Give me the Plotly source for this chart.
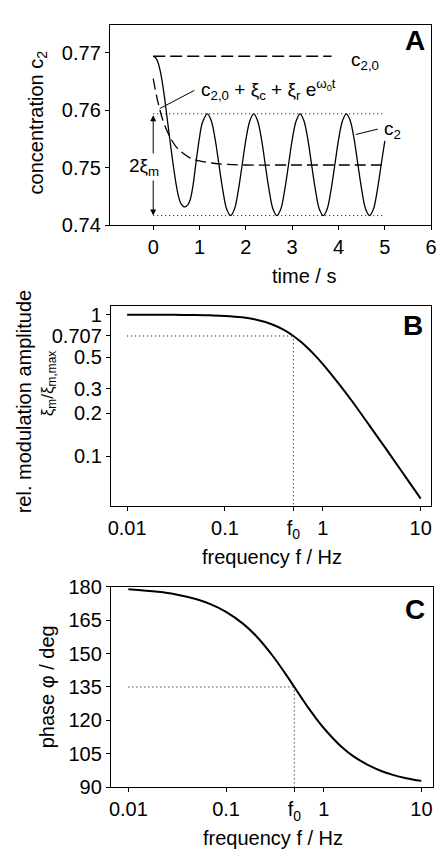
import plotly.graph_objects as go

W, H = 445, 861
FONT = "Liberation Sans, Arial, sans-serif"

# ---------------- Panel A data (time / s, concentration c2) ----------------
t_c2 = [0, 0.05, 0.1, 0.15, 0.2, 0.25, 0.3, 0.35, 0.4, 0.45, 0.5, 0.55, 0.6, 0.68,
        0.75, 0.8, 0.86, 0.93, 1.0, 1.06,
        1.17, 1.253, 1.337, 1.42, 1.503, 1.587, 1.67, 1.753, 1.837, 1.92, 2.003, 2.087,
        2.17, 2.253, 2.337, 2.42, 2.503, 2.587, 2.67, 2.753, 2.837, 2.92, 3.003, 3.087,
        3.17, 3.253, 3.337, 3.42, 3.503, 3.587, 3.67, 3.753, 3.837, 3.92, 4.003, 4.087,
        4.17, 4.253, 4.337, 4.42, 4.503, 4.587, 4.67, 4.753, 4.837, 4.92, 5.0]
c2 = [0.7694, 0.7692, 0.7684, 0.7669, 0.7647, 0.7619, 0.7587, 0.7555, 0.7524, 0.7495, 0.7469, 0.7449, 0.7438, 0.7432,
      0.7436, 0.7445, 0.7470, 0.7513, 0.7553, 0.7578,
      0.7594, 0.7582, 0.7550, 0.7505, 0.7461, 0.7428, 0.7417, 0.7428, 0.7461, 0.7505, 0.7550, 0.7582,
      0.7594, 0.7582, 0.7550, 0.7505, 0.7461, 0.7428, 0.7417, 0.7428, 0.7461, 0.7505, 0.7550, 0.7582,
      0.7594, 0.7582, 0.7550, 0.7505, 0.7461, 0.7428, 0.7417, 0.7428, 0.7461, 0.7505, 0.7550, 0.7582,
      0.7594, 0.7582, 0.7550, 0.7505, 0.7461, 0.7428, 0.7417, 0.7428, 0.7461, 0.7505, 0.7547]

t_fit = [0, 0.1, 0.2, 0.3, 0.4, 0.5, 0.6, 0.8, 1.0, 1.3, 1.6, 2.0, 3.0, 4.0, 5.0]
c_fit = [0.7655, 0.7615, 0.7585, 0.7564, 0.7548, 0.7536, 0.7528, 0.7517, 0.7512, 0.7508, 0.7506,
         0.7505, 0.7505, 0.7505, 0.7505]

t_c20 = [0, 3.85]
c20 = [0.7694, 0.7694]

t_env = [0, 5]
env_top = [0.7594, 0.7594]
env_bot = [0.7417, 0.7417]

# ---------------- Panel B / C data (frequency f / Hz) ----------------
freq = [0.01, 0.02, 0.03, 0.05, 0.07, 0.1, 0.15, 0.2, 0.3, 0.4, 0.5, 0.6, 0.7, 0.8,
        1, 1.5, 2, 3, 4, 5, 7, 10]
amp = [0.9998, 0.9992, 0.9982, 0.995, 0.990, 0.981, 0.958, 0.928, 0.857, 0.781, 0.707,
       0.640, 0.581, 0.530, 0.447, 0.316, 0.243, 0.164, 0.124, 0.0995, 0.0712, 0.0499]
phase = [178.85, 177.7, 176.6, 174.3, 172.0, 168.7, 163.3, 158.2, 149.0, 141.3, 135.0,
         129.8, 125.5, 122.0, 116.6, 108.4, 104.0, 99.5, 97.1, 95.7, 94.1, 92.9]

f0 = 0.5
amp_f0 = 0.707
phase_f0 = 135
f_start = 0.01

amp_ticks = [1, 0.707, 0.5, 0.3, 0.2, 0.1]
amp_ticktext = ["1", "0.707", "0.5", "0.3", "0.2", "0.1"]
f_ticks = [0.01, 0.1, 0.5, 1, 10]
f_ticktext = ["0.01", "0.1", "f<sub>0</sub>", "1", "10"]
phase_ticks = [90, 105, 120, 135, 150, 165, 180]
time_ticks = [0, 1, 2, 3, 4, 5, 6]
conc_ticks = [0.74, 0.75, 0.76, 0.77]


def pxx(x):
    return x / W


def pxy(y):
    return 1 - y / H


fig = go.Figure()
BLACK = "black"

# Panel A
fig.add_trace(go.Scatter(x=t_c2, y=c2, mode="lines", line=dict(color=BLACK, width=1.3, shape="spline"),
                         xaxis="x", yaxis="y", showlegend=False))
fig.add_trace(go.Scatter(x=t_fit, y=c_fit, mode="lines",
                         line=dict(color=BLACK, width=1.3, shape="spline", dash="11px,5px"),
                         xaxis="x", yaxis="y", showlegend=False))
fig.add_trace(go.Scatter(x=t_c20, y=c20, mode="lines", line=dict(color=BLACK, width=1.3, dash="12px,5px"),
                         xaxis="x", yaxis="y", showlegend=False))
for yy in (env_top, env_bot):
    fig.add_trace(go.Scatter(x=t_env, y=yy, mode="lines", line=dict(color=BLACK, width=1, dash="1px,3px"),
                             xaxis="x", yaxis="y", showlegend=False))

# Panel B
fig.add_trace(go.Scatter(x=freq, y=amp, mode="lines", line=dict(color=BLACK, width=2, shape="spline"),
                         xaxis="x2", yaxis="y2", showlegend=False))
fig.add_trace(go.Scatter(x=[f_start, f0], y=[amp_f0, amp_f0], mode="lines",
                         line=dict(color=BLACK, width=1, dash="1px,3px"),
                         xaxis="x2", yaxis="y2", showlegend=False))
fig.add_trace(go.Scatter(x=[f0, f0], y=[0.04, amp_f0], mode="lines",
                         line=dict(color=BLACK, width=1, dash="1px,3px"),
                         xaxis="x2", yaxis="y2", showlegend=False))

# Panel C
fig.add_trace(go.Scatter(x=freq, y=phase, mode="lines", line=dict(color=BLACK, width=2, shape="spline"),
                         xaxis="x3", yaxis="y3", showlegend=False))
fig.add_trace(go.Scatter(x=[f_start, f0], y=[phase_f0, phase_f0], mode="lines",
                         line=dict(color=BLACK, width=1, dash="1px,3px"),
                         xaxis="x3", yaxis="y3", showlegend=False))
fig.add_trace(go.Scatter(x=[f0, f0], y=[90, phase_f0], mode="lines",
                         line=dict(color=BLACK, width=1, dash="1px,3px"),
                         xaxis="x3", yaxis="y3", showlegend=False))

axis_common = dict(showline=True, linecolor=BLACK, linewidth=1, mirror=True, ticks="outside",
                   ticklen=4, tickcolor=BLACK, tickwidth=1, showgrid=False, zeroline=False,
                   tickfont=dict(family=FONT, size=20, color=BLACK))

fig.update_layout(
    width=W, height=H, margin=dict(l=0, r=0, t=0, b=0),
    paper_bgcolor="white", plot_bgcolor="white",
    font=dict(family=FONT, size=19, color=BLACK),
    xaxis=dict(domain=[pxx(109), pxx(437)], range=[-0.937, 6.0], tickvals=time_ticks,
               anchor="y", **axis_common),
    yaxis=dict(domain=[pxy(220), pxy(14)], range=[0.74, 0.7749], tickvals=conc_ticks,
               ticktext=["0.74", "0.75", "0.76", "0.77"], anchor="x", **axis_common),
    xaxis2=dict(domain=[pxx(110), pxx(437)], type="log", range=[-2.167, 1.107], tickvals=f_ticks,
                ticktext=f_ticktext, anchor="y2", **axis_common),
    yaxis2=dict(domain=[pxy(508), pxy(302.7)], type="log", range=[-1.354, 0.062], tickvals=amp_ticks,
                ticktext=amp_ticktext, anchor="x2", **axis_common),
    xaxis3=dict(domain=[pxx(110), pxx(439)], type="log", range=[-2.18, 1.12], tickvals=f_ticks,
                ticktext=f_ticktext, anchor="y3", **axis_common),
    yaxis3=dict(domain=[pxy(796.7), pxy(590.7)], range=[90, 180], tickvals=phase_ticks,
                anchor="x3", **axis_common),
)

ann = []
TF = dict(family=FONT, size=20, color=BLACK)
# axis titles
ann.append(dict(text="concentration c<sub>2</sub>", x=pxx(35), y=pxy(114), xref="paper", yref="paper",
                textangle=-90, showarrow=False, font=TF, xanchor="center", yanchor="middle"))
ann.append(dict(text="time / s", x=pxx(307), y=pxy(272), xref="paper", yref="paper",
                showarrow=False, font=TF, xanchor="center", yanchor="middle"))
ann.append(dict(text="rel. modulation amplitude", x=pxx(21), y=pxy(401), xref="paper", yref="paper",
                textangle=-90, showarrow=False, font=TF, xanchor="center", yanchor="middle"))
ann.append(dict(text="ξ<sub>m</sub>/ξ<sub>m,max</sub>", x=pxx(47), y=pxy(382), xref="paper", yref="paper",
                textangle=-90, showarrow=False, font=dict(family=FONT, size=17, color=BLACK),
                xanchor="center", yanchor="middle"))
ann.append(dict(text="frequency f / Hz", x=pxx(275), y=pxy(560), xref="paper", yref="paper",
                showarrow=False, font=TF, xanchor="center", yanchor="middle"))
ann.append(dict(text="phase φ / deg", x=pxx(45), y=pxy(694), xref="paper", yref="paper",
                textangle=-90, showarrow=False, font=TF, xanchor="center", yanchor="middle"))
ann.append(dict(text="frequency f / Hz", x=pxx(276), y=pxy(849), xref="paper", yref="paper",
                showarrow=False, font=TF, xanchor="center", yanchor="middle"))
# panel letters
LF = dict(family=FONT, size=28, color=BLACK)
for letter, (lx, ly) in {"A": (421, 30), "B": (418, 323), "C": (420, 614)}.items():
    ann.append(dict(text="<b>%s</b>" % letter, x=pxx(lx), y=pxy(ly), xref="paper", yref="paper",
                    showarrow=False, font=LF, xanchor="center", yanchor="middle"))

# panel A labels
AF = dict(family=FONT, size=19, color=BLACK)
ann.append(dict(text="c<sub>2,0</sub>", x=4.22, y=0.7685, xref="x", yref="y", showarrow=False,
                font=AF, xanchor="left", yanchor="middle"))
ann.append(dict(text="c<sub>2,0</sub> + ξ<sub>c</sub> + ξ<sub>r</sub> e<sup>ω<sub>0</sub>t</sup>",
                x=0.99, y=0.7637, xref="x", yref="y", showarrow=False,
                font=AF, xanchor="left", yanchor="middle"))
ann.append(dict(text="", x=0.14, y=0.7603, ax=0.92, ay=0.7636, xref="x", yref="y", axref="x", ayref="y",
                showarrow=True, arrowhead=0, arrowwidth=1, arrowcolor=BLACK, standoff=0, startstandoff=0))
ann.append(dict(text="c<sub>2</sub>", x=4.94, y=0.7566, xref="x", yref="y", showarrow=False,
                font=AF, xanchor="left", yanchor="middle"))
ann.append(dict(text="", x=4.37, y=0.7558, ax=4.88, ay=0.7568, xref="x", yref="y", axref="x", ayref="y",
                showarrow=True, arrowhead=0, arrowwidth=1, arrowcolor=BLACK, standoff=0, startstandoff=0))
# double arrow 2 xi_m
ann.append(dict(text="", x=0, y=env_bot[0], ax=0, ay=env_top[0], xref="x", yref="y", axref="x", ayref="y",
                showarrow=True, arrowhead=2, startarrowhead=2, arrowside="end+start", arrowsize=1.2,
                startarrowsize=1.2, arrowwidth=1, arrowcolor=BLACK, standoff=0, startstandoff=0))
ann.append(dict(text="2ξ<sub>m</sub>", x=-0.19, y=0.7502, xref="x", yref="y", showarrow=False,
                font=AF, xanchor="center", yanchor="middle", bgcolor="white"))

fig.update_layout(annotations=ann)
fig.write_html("out.html")
